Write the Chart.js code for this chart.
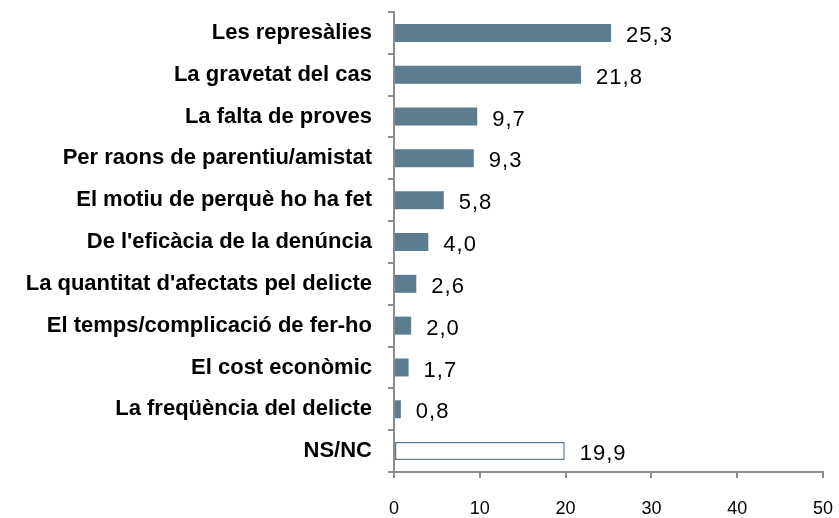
<!DOCTYPE html>
<html>
<head>
<meta charset="utf-8">
<script src="https://cdn.jsdelivr.net/npm/chart.js@4/dist/chart.umd.min.js"></script>
<style>
  html, body { margin: 0; padding: 0; background: #fff; }
  #wrap { width: 839px; height: 518px; }
</style>
</head>
<body>
<div id="wrap"><canvas id="myChart" width="839" height="518"></canvas></div>
<script>
// motius per no denunciar (%)
const categories = [
  'Les represàlies',
  'La gravetat del cas',
  'La falta de proves',
  'Per raons de parentiu/amistat',
  'El motiu de perquè ho ha fet',
  "De l'eficàcia de la denúncia",
  "La quantitat d'afectats pel delicte",
  'El temps/complicació de fer-ho',
  'El cost econòmic',
  'La freqüència del delicte',
  'NS/NC'
];
const values = [25.3, 21.8, 9.7, 9.3, 5.8, 4.0, 2.6, 2.0, 1.7, 0.8, 19.9];
const xTicks = [0, 10, 20, 30, 40, 50];

const barColor = '#5b7d8f';
const axisColor = '#8c8c8c';

// last one (NS/NC) is drawn hollow
const fills = values.map((v, i) => i === values.length - 1 ? '#ffffff' : barColor);
const borders = values.map((v, i) => i === values.length - 1 ? 1.5 : 0);

// value labels next to each bar, decimal comma
const valueLabels = {
  id: 'valueLabels',
  afterDatasetsDraw(chart) {
    const ctx = chart.ctx;
    const meta = chart.getDatasetMeta(0);
    ctx.save();
    ctx.font = '22px "Liberation Sans", Arial, sans-serif';
    ctx.letterSpacing = '1px';
    ctx.fillStyle = '#000';
    ctx.textBaseline = 'middle';
    ctx.textAlign = 'left';
    meta.data.forEach((bar, i) => {
      const txt = values[i].toFixed(1).replace('.', ',');
      ctx.fillText(txt, bar.x + 15, bar.y + 3);
    });
    ctx.restore();
  }
};

const ctx = document.getElementById('myChart').getContext('2d');
const myChart = new Chart(ctx, {
  type: 'bar',
  data: {
    labels: categories,
    datasets: [{
      data: values,
      backgroundColor: fills,
      borderColor: barColor,
      borderWidth: borders,
      borderSkipped: false,
      barPercentage: 0.43,
      categoryPercentage: 1.0
    }]
  },
  options: {
    indexAxis: 'y',
    responsive: false,
    animation: false,
    layout: { padding: { top: 12, right: 16, left: 0, bottom: 0 } },
    plugins: {
      legend: { display: false },
      tooltip: { enabled: false }
    },
    scales: {
      x: {
        min: 0,
        max: 50,
        afterBuildTicks(scale) {
          scale.ticks = xTicks.map(v => ({ value: v }));
        },
        afterFit(scale) {
          scale.height = 46;
          // no extra room for the end labels
          scale.paddingLeft = 0;
          scale.paddingRight = 0;
        },
        border: { display: true, color: axisColor, width: 2 },
        grid: { drawOnChartArea: false, drawTicks: true, tickLength: 6, color: axisColor, lineWidth: 2 },
        ticks: {
          padding: 20,
          color: '#000',
          font: { family: '"Liberation Sans", Arial, sans-serif', size: 18 }
        }
      },
      y: {
        afterFit(scale) {
          scale.width = 394;
          scale.paddingTop = 0;
          scale.paddingBottom = 0;
        },
        border: { display: true, color: axisColor, width: 2 },
        grid: { drawOnChartArea: false, drawTicks: true, tickLength: 6, color: axisColor, lineWidth: 2, offset: true },
        ticks: {
          padding: 16,
          color: '#000',
          font: { family: '"Liberation Sans", Arial, sans-serif', size: 22, weight: 'bold' }
        }
      }
    }
  },
  plugins: [valueLabels]
});
</script>
</body>
</html>
